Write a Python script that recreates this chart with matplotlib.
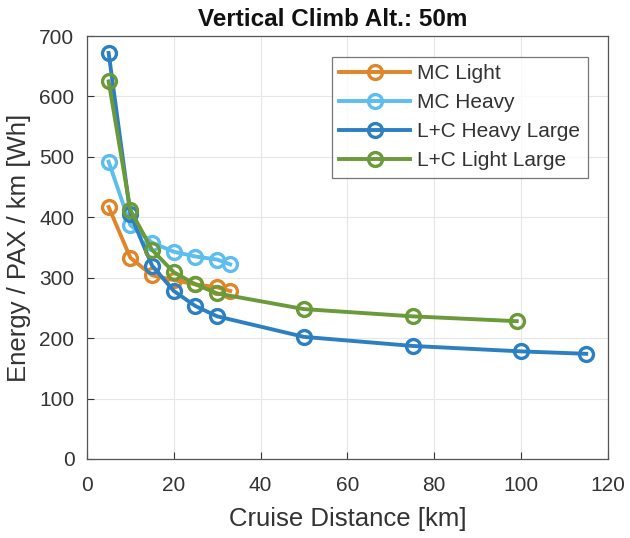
import matplotlib
matplotlib.use('Agg')
import matplotlib.pyplot as plt

plt.rcParams['font.family'] = ['Liberation Sans', 'DejaVu Sans']

# data
mc_light_x = [5, 10, 15, 20, 25, 30, 33]
mc_light_y = [417, 333, 304, 296, 289, 284, 278]

mc_heavy_x = [5, 10, 15, 20, 25, 30, 33]
mc_heavy_y = [492, 387, 358, 343, 335, 330, 322]

lc_heavy_x = [5, 10, 15, 20, 25, 30, 50, 75, 100, 115]
lc_heavy_y = [672, 405, 320, 278, 253, 236, 202, 187, 178, 174]

lc_light_x = [5, 10, 15, 20, 25, 30, 50, 75, 99]
lc_light_y = [625, 412, 346, 309, 289, 274, 248, 236, 228]

series = [
    ('MC Light', mc_light_x, mc_light_y, '#E0862A'),
    ('MC Heavy', mc_heavy_x, mc_heavy_y, '#5DBDF0'),
    ('L+C Heavy Large', lc_heavy_x, lc_heavy_y, '#2C80C2'),
    ('L+C Light Large', lc_light_x, lc_light_y, '#6B9A3A'),
]

txt = '#333333'

fig = plt.figure(figsize=(6.3, 5.38), dpi=100)
ax = fig.add_axes([0.138, 0.147, 0.827, 0.786])

for name, xs, ys, col in series:
    ax.plot(xs, ys, '-o', color=col, lw=2.8, ms=10, mfc='none', mew=2.4, label=name)

ax.set_xlim(0, 120)
ax.set_ylim(0, 700)
ax.set_xticks(range(0, 121, 20))
ax.set_yticks(range(0, 701, 100))
ax.grid(True, color='#e6e6e6', lw=0.8)
ax.set_axisbelow(True)
ax.tick_params(direction='in', labelsize=15, colors=txt, length=5)
ax.tick_params(axis='x', pad=12)
ax.tick_params(axis='y', pad=9)
for s in ax.spines.values():
    s.set_color('#555555')
    s.set_linewidth(0.9)

ax.set_xlabel('Cruise Distance [km]', fontsize=18.5, color=txt, labelpad=9)
ax.set_ylabel('Energy / PAX / km [Wh]', fontsize=18.5, color=txt, labelpad=6)
fig.text(333 / 630, 1 - 19 / 538, 'Vertical Climb Alt.: 50m', fontsize=17.5,
         fontweight='bold', ha='center', va='center', color='#111111')

leg = ax.legend(loc='upper left', bbox_to_anchor=(332 / 630, 1 - 57 / 538),
                bbox_transform=fig.transFigure, borderaxespad=0, fontsize=15,
                handlelength=3.4, handletextpad=0.35, fancybox=False,
                edgecolor='#555555', borderpad=0.35, labelspacing=0.48,
                labelcolor=txt)
leg.get_frame().set_linewidth(0.9)

fig.savefig('out.png', dpi=100)
